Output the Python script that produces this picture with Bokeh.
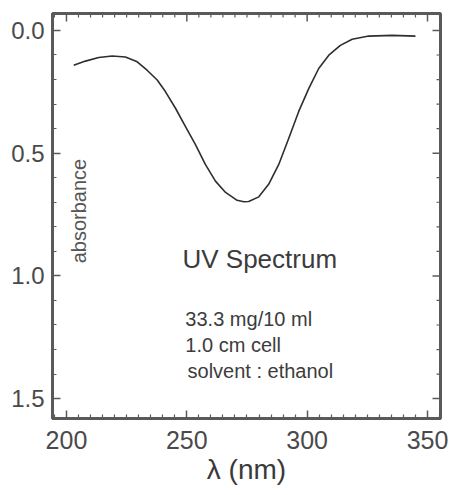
import numpy as np
from bokeh.plotting import figure
from bokeh.models import Range1d, FixedTicker, PrintfTickFormatter, Label
from bokeh.embed import file_html
from bokeh.resources import INLINE

# data
wavelength = [203.0, 207.9, 213.4, 219.0, 224.5, 229.4, 233.5, 237.7, 241.1, 245.3,
              249.4, 253.6, 257.7, 261.9, 266.1, 270.9, 273.7, 275.7, 279.9, 284.0,
              288.2, 292.4, 296.5, 300.7, 304.8, 309.0, 313.8, 318.7, 325.6, 335.3,
              345.0]
absorbance = [0.142, 0.125, 0.110, 0.104, 0.108, 0.128, 0.162, 0.202, 0.249, 0.317,
              0.391, 0.465, 0.546, 0.614, 0.660, 0.692, 0.698, 0.697, 0.678, 0.627,
              0.546, 0.438, 0.330, 0.236, 0.155, 0.101, 0.061, 0.036, 0.023, 0.020,
              0.023]
x_ticks = [200, 250, 300, 350]
x_minor = [195, 205, 210, 215, 220, 225, 230, 235, 240, 245, 255, 260, 265, 270, 275, 280,
           285, 290, 295, 305, 310, 315, 320, 325, 330, 335, 340, 345, 355]
y_ticks = [0.0, 0.5, 1.0, 1.5]
y_minor = [0.1, 0.2, 0.3, 0.4, 0.6, 0.7, 0.8, 0.9, 1.1, 1.2, 1.3, 1.4]
title_text = "UV Spectrum"
info_lines = ["33.3 mg/10 ml", "1.0 cm cell", "solvent : ethanol"]

X0, X1 = 194.2, 355.4
Y_TOP, Y_BOT = -0.069, 1.581
FRAME_W, FRAME_H = 388, 408

FONT = "Liberation Sans"
INK = "#3c3c3c"
EDGE = "#5a5a5a"

p = figure(width=453, height=487,
           x_range=Range1d(X0, X1), y_range=Range1d(Y_BOT, Y_TOP),
           output_backend="svg", toolbar_location=None,
           min_border_left=52, min_border_right=13, min_border_top=13, min_border_bottom=66)
p.grid.visible = False
p.outline_line_color = EDGE
p.outline_line_width = 3
p.background_fill_color = "white"
p.border_fill_color = "white"

def style(ax, size):
    ax.axis_line_color = EDGE
    ax.axis_line_width = 3
    ax.major_tick_in = 8
    ax.major_tick_out = 0
    ax.minor_tick_in = 4
    ax.minor_tick_out = 0
    ax.major_tick_line_color = EDGE
    ax.minor_tick_line_color = EDGE
    ax.major_tick_line_width = 1.5
    ax.minor_tick_line_width = 1.2
    ax.major_label_text_font = FONT
    ax.major_label_text_font_size = size
    ax.major_label_text_color = "#4a4a4a"

xa = p.xaxis[0]
xa.ticker = FixedTicker(ticks=x_ticks, minor_ticks=x_minor)
style(xa, "25px")
xa.major_label_standoff = 12
xa.axis_label = "λ (nm)"
xa.axis_label_text_font = FONT
xa.axis_label_text_font_size = "28px"
xa.axis_label_text_font_style = "normal"
xa.axis_label_text_color = "#3a3a3a"
xa.axis_label_standoff = 2

ya = p.yaxis[0]
ya.ticker = FixedTicker(ticks=y_ticks, minor_ticks=y_minor)
ya.formatter = PrintfTickFormatter(format="%.1f")
style(ya, "24px")
ya.major_label_standoff = 8

# mirrored inward ticks on the top and right edges
px_y = (Y_BOT - Y_TOP) / FRAME_H
px_x = (X1 - X0) / FRAME_W
for ticks, ln, lw in ((x_ticks, 8, 1.5), (x_minor, 4, 1.2)):
    p.segment(x0=ticks, x1=ticks, y0=[Y_TOP] * len(ticks), y1=[Y_TOP + ln * px_y] * len(ticks),
              line_color=EDGE, line_width=lw)
for ticks, ln, lw in ((y_ticks, 8, 1.5), (y_minor, 4, 1.2)):
    p.segment(x0=[X1] * len(ticks), x1=[X1 - ln * px_x] * len(ticks), y0=ticks, y1=ticks,
              line_color=EDGE, line_width=lw)

p.line(wavelength, absorbance, line_color="#2e2e2e", line_width=1.6, line_join="round")

p.add_layout(Label(x=205.4, y=0.736, text="absorbance", angle=np.pi / 2,
                   text_align="center", text_baseline="middle",
                   text_font=FONT, text_font_size="20px", text_color="#555555"))
p.add_layout(Label(x=248.2, y=0.930, text=title_text, text_align="left",
                   text_baseline="alphabetic", text_font=FONT,
                   text_font_size="26px", text_color=INK))
for txt, yy, xx in zip(info_lines, [1.177, 1.282, 1.387], [249.4, 249.4, 250.3]):
    p.add_layout(Label(x=xx, y=yy, text=txt, text_align="left",
                       text_baseline="alphabetic", text_font=FONT,
                       text_font_size="20px", text_color=INK))

open("out.html", "w").write(file_html(p, INLINE))
